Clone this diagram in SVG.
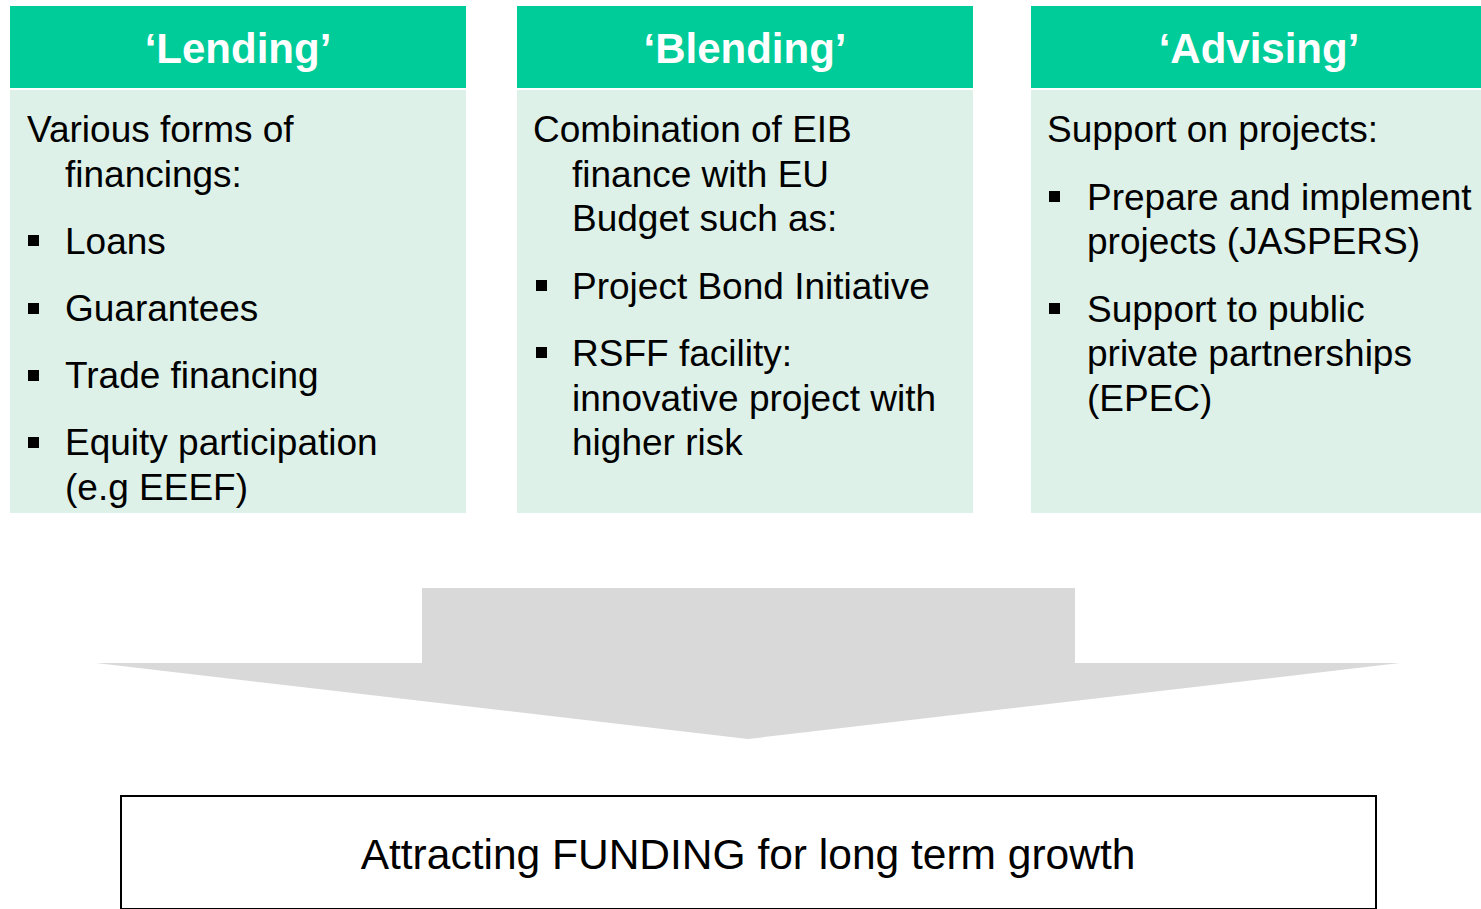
<svg xmlns="http://www.w3.org/2000/svg" width="1481" height="909" viewBox="0 0 1481 909">
  <style>
    .hdr { fill: #00CC99; }
    .body { fill: #DEF1E8; }
    .title { font-family: "Liberation Sans", Arial, sans-serif; font-size: 42px; font-weight: bold; fill: #FFFFFF; text-anchor: middle; }
    .txt { font-family: "Liberation Sans", Arial, sans-serif; font-size: 37px; fill: #000000; }
    .bul { fill: #000000; }
    .goal { font-family: "Liberation Sans", Arial, sans-serif; font-size: 42.5px; fill: #000000; text-anchor: middle; }
  </style>
  <defs>
    <rect id="sq" width="11" height="11" class="bul"/>
  </defs>
  <rect width="1481" height="909" fill="#FFFFFF"/>

  <g id="lending">
    <rect class="hdr" x="10" y="6" width="456" height="82"/>
    <rect class="body" x="10" y="90" width="456" height="423"/>
    <text class="title" x="238" y="63">‘Lending’</text>
    <text class="txt" x="27" y="142">Various forms of</text>
    <text class="txt" x="65" y="187">financings:</text>
    <use href="#sq" x="28" y="235"/>
    <text class="txt" x="65" y="254">Loans</text>
    <use href="#sq" x="28" y="303"/>
    <text class="txt" x="65" y="321">Guarantees</text>
    <use href="#sq" x="28" y="370"/>
    <text class="txt" x="65" y="388">Trade financing</text>
    <use href="#sq" x="28" y="437"/>
    <text class="txt" x="65" y="455">Equity participation</text>
    <text class="txt" x="65" y="500">(e.g EEEF)</text>
  </g>

  <g id="blending">
    <rect class="hdr" x="517" y="6" width="456" height="82"/>
    <rect class="body" x="517" y="90" width="456" height="423"/>
    <text class="title" x="745" y="63">‘Blending’</text>
    <text class="txt" x="533" y="142">Combination of EIB</text>
    <text class="txt" x="572" y="187">finance with EU</text>
    <text class="txt" x="572" y="231">Budget such as:</text>
    <use href="#sq" x="536" y="280"/>
    <text class="txt" x="572" y="299">Project Bond Initiative</text>
    <use href="#sq" x="536" y="347"/>
    <text class="txt" x="572" y="366">RSFF facility:</text>
    <text class="txt" x="572" y="411">innovative project with</text>
    <text class="txt" x="572" y="455">higher risk</text>
  </g>

  <g id="advising">
    <rect class="hdr" x="1031" y="6" width="450" height="82"/>
    <rect class="body" x="1031" y="90" width="450" height="423"/>
    <text class="title" x="1259" y="63">‘Advising’</text>
    <text class="txt" x="1047" y="142">Support on projects:</text>
    <use href="#sq" x="1049" y="191"/>
    <text class="txt" x="1087" y="210">Prepare and implement</text>
    <text class="txt" x="1087" y="254">projects (JASPERS)</text>
    <use href="#sq" x="1049" y="303"/>
    <text class="txt" x="1087" y="322">Support to public</text>
    <text class="txt" x="1087" y="366">private partnerships</text>
    <text class="txt" x="1087" y="411">(EPEC)</text>
  </g>

  <g id="connectors">
    <polygon fill="#D9D9D9" points="422,588 1075,588 1075,663 1400,663 748,739 96,663 422,663"/>
  </g>

  <g id="goal">
    <rect x="121" y="796" width="1255" height="113" fill="#FFFFFF" stroke="#000000" stroke-width="2"/>
    <text class="goal" x="748" y="869">Attracting FUNDING for long term growth</text>
  </g>
</svg>
